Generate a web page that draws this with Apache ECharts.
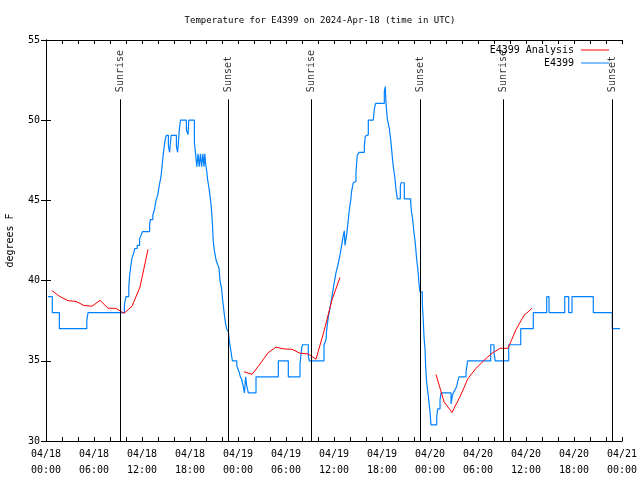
<!DOCTYPE html>
<html>
<head>
<meta charset="utf-8">
<script src="https://cdn.jsdelivr.net/npm/echarts@6/dist/echarts.min.js"></script>
<style>
html,body{margin:0;padding:0;background:#fff;}
#chart{width:640px;height:480px;}
</style>
</head>
<body>
<div id="chart"></div>
<script>
// Hours since 2024-04-18 00:00 UTC
var obsHours = [0.25,0.79,1.67,5.1,5.25,9.8,10.0,10.35,10.45,10.6,10.75,10.95,11.1,11.4,11.7,11.9,12.05,12.95,13.05,13.35,13.55,13.75,13.95,14.15,14.38,14.54,14.66,14.79,14.91,15.04,15.3,15.45,15.55,15.65,16.3,16.45,16.55,16.65,16.8,17.55,17.75,17.85,18.55,18.7,18.85,19.0,19.15,19.3,19.45,19.6,19.75,19.85,19.95,20.1,20.2,20.35,20.5,20.62,20.7,20.8,20.9,21.04,21.25,21.45,21.62,21.75,21.95,22.08,22.3,22.45,22.58,22.8,22.9,23.08,23.2,23.3,23.85,23.98,24.15,24.3,24.45,24.66,24.8,24.96,25.1,25.3,26.25,29.04,30.29,31.75,31.96,32.08,32.79,32.91,34.75,35.0,35.08,35.29,35.5,35.71,35.84,36.0,36.25,36.41,36.54,36.75,36.96,37.16,37.29,37.375,37.59,37.79,37.91,38.09,38.21,38.41,38.63,38.75,38.91,39.13,39.79,39.91,40.09,40.29,40.91,41.04,41.21,42.29,42.41,42.5,42.66,42.91,43.13,43.29,43.41,43.59,43.71,43.91,44.29,44.38,44.79,45.59,45.71,45.84,46.0,46.13,46.34,46.46,46.63,46.75,47.04,47.16,47.25,47.38,47.46,47.59,47.79,48.0,48.13,48.84,48.96,49.25,49.38,50.63,50.79,50.91,51.13,51.34,51.46,51.63,52.5,52.71,55.59,56.0,56.16,57.84,59.34,60.91,62.59,62.88,64.84,65.34,65.75,68.41,70.79,71.75];
var obsTemps = [39.0,38.0,37.0,37.5,38.0,38.5,39.0,39.6,40.3,40.9,41.4,41.7,42.0,42.2,42.6,42.85,43.05,43.5,43.8,44.1,44.4,45.0,45.3,45.9,46.5,47.3,47.9,48.4,48.8,49.05,48.4,48.0,48.6,49.05,48.4,48.0,48.6,49.3,50.0,49.4,49.1,50.0,48.6,47.9,47.1,47.9,47.1,47.9,47.1,47.9,47.1,47.9,47.3,46.8,46.3,45.85,45.3,44.8,44.3,43.6,42.5,41.9,41.3,41.0,40.8,40.0,39.5,38.8,37.85,37.3,37.0,36.8,36.3,35.7,35.3,35.0,34.7,34.5,34.3,34.0,33.85,33.4,33.0,34.0,33.4,33.0,34.0,35.0,34.0,34.8,35.8,36.0,35.3,35.0,36.0,36.3,36.9,37.75,38.3,38.9,39.3,39.8,40.5,40.8,41.1,41.6,42.2,42.8,43.1,42.2,42.9,43.8,44.4,45.0,45.6,46.1,46.2,46.8,47.8,48.0,48.35,49.0,49.1,50.0,50.1,50.7,51.05,51.8,52.1,51.05,50.1,49.5,48.6,47.7,47.1,46.5,45.85,45.1,45.85,46.1,45.1,44.8,44.2,43.8,42.95,42.5,41.3,40.8,39.8,39.3,38.6,37.5,36.5,35.7,34.6,33.6,32.8,31.8,31.0,31.5,32.0,32.55,33.0,32.3,32.8,33.0,33.2,33.4,33.7,34.0,34.3,35.0,36.0,35.5,35.0,36.0,37.0,38.0,39.0,38.0,39.0,38.0,39.0,38.0,37.0,37.0];

var anaHours1 = [0.75,1.75,2.75,3.75,4.75,5.75,6.75,7.75,8.75,9.75,10.75,11.75,12.75];
var anaTemps1 = [39.37,39.0,38.75,38.7,38.45,38.4,38.77,38.28,38.27,37.96,38.4,39.6,41.95];
var anaHours2 = [24.75,25.75,26.75,27.75,28.75,29.75,30.75,31.75,32.75,33.75,34.75,35.75,36.75];
var anaTemps2 = [34.32,34.15,34.8,35.5,35.85,35.74,35.72,35.47,35.43,35.1,36.85,38.8,40.2];
var anaHours3 = [48.75,49.75,50.75,51.75,52.75,53.75,54.75,55.75,56.75,57.75,58.75,59.75,60.75];
var anaTemps3 = [34.15,32.45,31.78,32.76,33.9,34.53,35.03,35.47,35.78,35.78,36.95,37.83,38.27];

var sunHours = [9.28,22.79,33.17,46.79,57.15,70.79];
var sunNames = ['Sunrise','Sunset','Sunrise','Sunset','Sunrise','Sunset'];

var xTickHours = [0,6,12,18,24,30,36,42,48,54,60,66,72];
var xTickLabels = ['04/18\n00:00','04/18\n06:00','04/18\n12:00','04/18\n18:00','04/19\n00:00','04/19\n06:00','04/19\n12:00','04/19\n18:00','04/20\n00:00','04/20\n06:00','04/20\n12:00','04/20\n18:00','04/21\n00:00'];
var yTicks = [30,35,40,45,50,55];

var FONT = 'DejaVu Sans Mono';

function zip(a,b){ return a.map(function(v,i){ return [v,b[i]]; }); }

var sunLineTop = 51.3;
var sunLabelY = 51.75;

var chart = echarts.init(document.getElementById('chart'), null, {renderer:'canvas'});

var baseAxisLine = {show:true, lineStyle:{color:'#000', width:1}};
var option = {
  animation:false,
  backgroundColor:'#fff',
  title:{
    text:'Temperature for E4399 on 2024-Apr-18 (time in UTC)',
    left:'center', top:11,
    textStyle:{fontFamily:FONT, fontSize:9, fontWeight:'normal', color:'#000'}
  },
  legend:{
    show:true, type:'plain', orient:'vertical', right:31, top:44,
    data:[{name:'E4399 Analysis', itemStyle:{color:'#ff0000'}}, {name:'E4399', itemStyle:{color:'#0080ff'}}],
    icon:'rect', itemWidth:28, itemHeight:1, itemGap:1, align:'right', padding:0,
    textStyle:{fontFamily:FONT, fontSize:10, lineHeight:12, color:'#000', width:88, align:'right', padding:[0,2,0,0]}
  },
  grid:{left:46, right:18, top:40, bottom:39, containLabel:false, outerBoundsMode:'none'},
  xAxis:[
    {type:'value', min:0, max:72, interval:2, position:'bottom',
     axisLine:baseAxisLine, splitLine:{show:false},
     axisTick:{show:true, inside:true, length:4, lineStyle:{color:'#000'}},
     axisLabel:{show:true, interval:0, margin:5, lineHeight:16, fontFamily:FONT, fontSize:10, color:'#000', hideOverlap:false,
       formatter:function(v){ var i = xTickHours.indexOf(v); return i>=0 ? xTickLabels[i] : ''; }}
    },
    {type:'value', min:0, max:72, interval:2, position:'top',
     axisLine:baseAxisLine, splitLine:{show:false},
     axisTick:{show:true, inside:true, length:4, lineStyle:{color:'#000'}},
     axisLabel:{show:false}}
  ],
  yAxis:[
    {type:'value', min:30, max:55, interval:5, position:'left',
     name:'degrees F', nameLocation:'middle', nameGap:31, nameRotate:90,
     nameTextStyle:{fontFamily:FONT, fontSize:10, color:'#000'},
     axisLine:baseAxisLine, splitLine:{show:false},
     axisTick:{show:true, inside:true, length:5, lineStyle:{color:'#000'}},
     axisLabel:{margin:6, fontFamily:FONT, fontSize:10, color:'#000',
       formatter:function(v){ return yTicks.indexOf(v)>=0 ? String(v) : ''; }}
    },
    {type:'value', min:30, max:55, interval:5, position:'right',
     axisLine:baseAxisLine, splitLine:{show:false},
     axisTick:{show:true, inside:true, length:5, lineStyle:{color:'#000'}},
     axisLabel:{show:false}}
  ],
  series:[
    {name:'E4399 Analysis', type:'line', data:zip(anaHours1, anaTemps1), symbol:'none', showSymbol:false,
     lineStyle:{color:'#ff0000', width:1}, itemStyle:{color:'#ff0000'}, z:4},
    {name:'E4399 Analysis', type:'line', data:zip(anaHours2, anaTemps2), symbol:'none', showSymbol:false,
     lineStyle:{color:'#ff0000', width:1}, itemStyle:{color:'#ff0000'}, z:4},
    {name:'E4399 Analysis', type:'line', data:zip(anaHours3, anaTemps3), symbol:'none', showSymbol:false,
     lineStyle:{color:'#ff0000', width:1}, itemStyle:{color:'#ff0000'}, z:4},
    {name:'E4399', type:'line', step:'end', data:zip(obsHours, obsTemps), symbol:'none', showSymbol:false,
     lineStyle:{color:'#0080ff', width:1.2}, itemStyle:{color:'#0080ff'}, z:3},
    {name:'sun', type:'scatter', symbolSize:0, silent:true, z:5,
     data:sunHours.map(function(h,i){ return {value:[h, sunLabelY], name:sunNames[i]}; }),
     label:{show:true, position:'inside', rotate:90, align:'left', verticalAlign:'middle',
       fontFamily:FONT, fontSize:10, color:'#000', formatter:function(p){ return p.name; }},
     markLine:{silent:true, symbol:['none','none'], label:{show:false},
       lineStyle:{color:'#000', width:1, type:'solid'},
       data:sunHours.map(function(h){ return [{coord:[h,30]},{coord:[h,sunLineTop]}]; })}
    }
  ]
};
chart.setOption(option);
</script>
</body>
</html>
